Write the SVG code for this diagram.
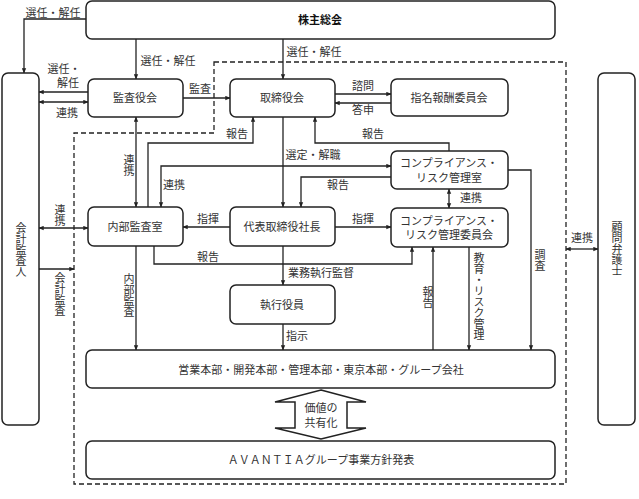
<svg xmlns="http://www.w3.org/2000/svg" width="639" height="499" viewBox="0 0 639 499">
<defs>
<style>
.box{fill:#fff;stroke:#222;stroke-width:1.5}
.ln{fill:none;stroke:#222;stroke-width:1.3}
.dash{fill:none;stroke:#222;stroke-width:1.3;stroke-dasharray:5 3}
text{font-family:"Liberation Serif","Noto Sans CJK JP",serif;font-size:11px;fill:#333;text-anchor:middle}
.v{writing-mode:vertical-rl;text-orientation:upright}
.b{font-weight:bold;fill:#111}
</style>
<marker id="ah" viewBox="0 0 8 8" refX="7.5" refY="4" markerWidth="5" markerHeight="5" orient="auto-start-reverse" markerUnits="userSpaceOnUse">
<path d="M0,0.5 L8,4 L0,7.5 Z" fill="#222"/>
</marker>
</defs>
<rect width="639" height="499" fill="#fff"/>
<path class="dash" d="M214,62 H566 V484 H74 V133 H214 Z"/>

<g id="n-kabunushi"><rect class="box" x="86" y="1" width="469" height="38" rx="6"/><text class="b" x="320" y="24">株主総会</text></g>
<g id="n-kaikei"><rect class="box" x="2" y="73" width="37" height="352" rx="6"/><text class="v" x="20" y="250">会計監査人</text></g>
<g id="n-komon"><rect class="box" x="598" y="73" width="37" height="352" rx="6"/><text class="v" x="616" y="249">顧問弁護士</text></g>
<g id="n-kansayaku"><rect class="box" x="88" y="79" width="95" height="38" rx="6"/><text x="135" y="102">監査役会</text></g>
<g id="n-torishimari"><rect class="box" x="230" y="79" width="105" height="38" rx="6"/><text x="282" y="102">取締役会</text></g>
<g id="n-shimei"><rect class="box" x="391" y="79" width="117" height="37" rx="6"/><text x="449" y="102">指名報酬委員会</text></g>
<g id="n-compshitsu"><rect class="box" x="391" y="151" width="117" height="38" rx="6"/><text x="449" y="167">コンプライアンス・</text><text x="449" y="182">リスク管理室</text></g>
<g id="n-naibu"><rect class="box" x="88" y="207" width="95" height="39" rx="6"/><text x="135" y="231">内部監査室</text></g>
<g id="n-daihyo"><rect class="box" x="230" y="207" width="105" height="39" rx="6"/><text x="282" y="231">代表取締役社長</text></g>
<g id="n-compiin"><rect class="box" x="391" y="208" width="117" height="39" rx="6"/><text x="449" y="225">コンプライアンス・</text><text x="449" y="239">リスク管理委員会</text></g>
<g id="n-shikko"><rect class="box" x="230" y="285" width="105" height="39" rx="6"/><text x="282" y="309">執行役員</text></g>
<g id="n-eigyo"><rect class="box" x="86" y="350" width="469" height="38" rx="6"/><text x="321" y="374">営業本部・開発本部・管理本部・東京本部・グループ会社</text></g>
<g id="n-kachi"><path class="box" d="M321,390 L366,402 L347,402 L347,428 L366,428 L321,439 L275,428 L295,428 L295,402 L275,402 Z" stroke-width="1.3"/><text x="321" y="412">価値の</text><text x="321" y="427">共有化</text></g>
<g id="n-avantia"><rect class="box" x="86" y="441" width="469" height="38" rx="6"/><text x="321" y="464">ＡＶＡＮＴＩＡグループ事業方針発表</text></g>

<g id="connectors">
<path class="ln" d="M86,19 H24 V73" marker-end="url(#ah)"/>
<text x="53" y="17">選任・解任</text>
<path class="ln" d="M136,39 V79" marker-end="url(#ah)"/>
<text x="168" y="65">選任・解任</text>
<path class="ln" d="M283,39 V79" marker-end="url(#ah)"/>
<text x="314" y="56">選任・解任</text>
<path class="ln" d="M88,92 H39" marker-end="url(#ah)"/>
<text x="64" y="73">選任・</text>
<text x="68" y="87">解任</text>
<path class="ln" d="M39,102 H88" marker-start="url(#ah)" marker-end="url(#ah)"/>
<text x="67" y="117">連携</text>
<path class="ln" d="M183,98 H230" marker-end="url(#ah)"/>
<text x="200" y="93">監査</text>
<path class="ln" d="M335,94 H391" marker-end="url(#ah)"/>
<text x="363" y="90">諮問</text>
<path class="ln" d="M391,103 H335" marker-end="url(#ah)"/>
<text x="363" y="114">答申</text>
<path class="ln" d="M136,117 V207" marker-start="url(#ah)" marker-end="url(#ah)"/>
<text class="v" x="128" y="165">連携</text>
<path class="ln" d="M148,207 V143 H253 V117" marker-end="url(#ah)"/>
<text x="237" y="138">報告</text>
<path class="ln" d="M161,207 V166 H391" marker-start="url(#ah)" marker-end="url(#ah)"/>
<text x="174" y="189">連携</text>
<path class="ln" d="M283,117 V207" marker-end="url(#ah)"/>
<text x="313" y="159">選定・解職</text>
<path class="ln" d="M391,177 H301 V207" marker-end="url(#ah)"/>
<text x="338" y="189">報告</text>
<path class="ln" d="M449,151 V143 H315 V117" marker-end="url(#ah)"/>
<text x="373" y="138">報告</text>
<path class="ln" d="M449,189 V208" marker-start="url(#ah)" marker-end="url(#ah)"/>
<text x="471" y="202">連携</text>
<path class="ln" d="M335,227 H391" marker-end="url(#ah)"/>
<text x="363" y="223">指揮</text>
<path class="ln" d="M230,227 H183" marker-end="url(#ah)"/>
<text x="208" y="223">指揮</text>
<path class="ln" d="M39,228 H88" marker-start="url(#ah)" marker-end="url(#ah)"/>
<text class="v" x="59" y="215">連携</text>
<path class="ln" d="M39,269 H74" marker-end="url(#ah)"/>
<text class="v" x="59" y="294">会計監査</text>
<path class="ln" d="M154,246 V264 H412 V247" marker-end="url(#ah)"/>
<text x="208" y="261">報告</text>
<path class="ln" d="M283,246 V285" marker-end="url(#ah)"/>
<text x="321" y="277">業務執行監督</text>
<path class="ln" d="M283,324 V350" marker-end="url(#ah)"/>
<text x="297" y="340">指示</text>
<path class="ln" d="M136,246 V350" marker-end="url(#ah)"/>
<text class="v" x="128" y="295">内部監査</text>
<path class="ln" d="M433,350 V247" marker-end="url(#ah)"/>
<text class="v" x="427" y="297">報告</text>
<path class="ln" d="M469,247 V350" marker-end="url(#ah)"/>
<text class="v" x="478" y="296">教育・リスク管理</text>
<path class="ln" d="M508,170 H531 V350" marker-end="url(#ah)"/>
<text class="v" x="539" y="260">調査</text>
<path class="ln" d="M566,249 H598" marker-start="url(#ah)" marker-end="url(#ah)"/>
<text x="582" y="242">連携</text>
</g>
</svg>
